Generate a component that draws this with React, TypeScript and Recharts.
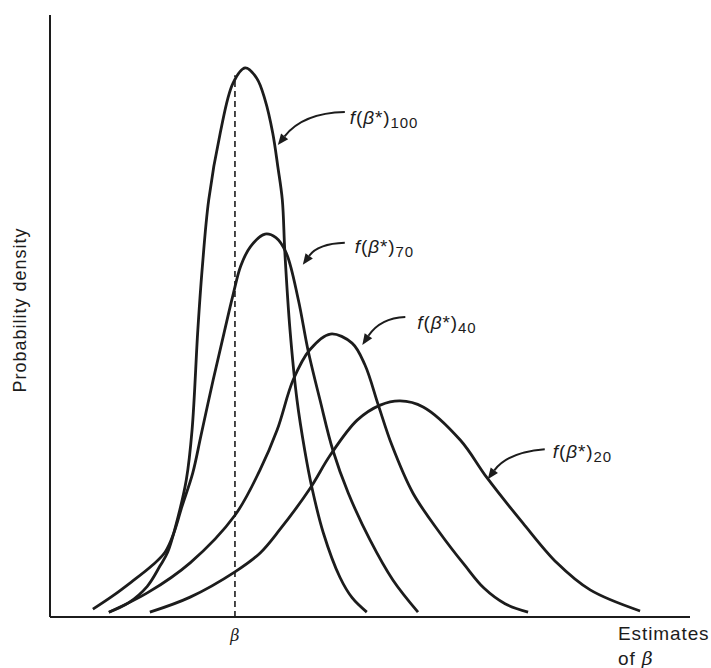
import React from 'react';
import { ComposedChart, Line, XAxis, YAxis, ReferenceLine, ReferenceDot, Label } from 'recharts';

// Curves: [estimate of beta, probability density] (arbitrary units 0-100)
const f100: [number, number][] = [
  [9.2, 0.8], [12.2, 2.3], [15.2, 5.1], [17.2, 8.5], [18.4, 10.8], [20.0, 16.6], [21.3, 22.8],
  [22.2, 31.1], [23.1, 47.7], [23.8, 58.1], [24.8, 69.3], [26.6, 80.4], [28.6, 88.7], [30.5, 91.2],
  [32.3, 89.5], [33.6, 85.9], [34.8, 80.4], [35.6, 74.8], [36.3, 69.3], [36.7, 60.5], [37.5, 47.7],
  [38.6, 36.0], [39.8, 27.7], [40.9, 21.6], [42.7, 14.0], [45.3, 6.6], [47.2, 3.2], [49.5, 0.8],
];
const f70: [number, number][] = [
  [6.7, 1.3], [9.8, 3.5], [12.7, 5.8], [15.9, 8.5], [18.0, 10.8], [19.4, 14.1], [20.6, 18.3],
  [22.3, 23.9], [23.6, 30.2], [25.5, 39.4], [27.2, 47.2], [28.6, 53.5], [29.8, 58.3], [31.3, 61.5],
  [33.6, 63.6], [35.3, 63.0], [36.9, 60.5], [38.8, 52.7], [40.3, 44.4], [42.2, 36.0], [44.2, 27.7],
  [46.6, 20.6], [50.0, 12.8], [53.6, 6.1], [57.5, 0.8],
];
const f40: [number, number][] = [
  [9.2, 0.8], [15.2, 4.0], [21.9, 9.0], [28.9, 16.9], [32.8, 24.4], [35.5, 31.1], [38.0, 39.4],
  [40.6, 44.4], [43.8, 47.0], [47.2, 45.5], [49.2, 41.9], [51.3, 35.2], [53.4, 28.6], [56.7, 20.6],
  [60.9, 14.0], [64.8, 8.6], [67.8, 4.8], [71.1, 2.2], [74.7, 0.8],
];
const f20: [number, number][] = [
  [15.6, 0.8], [21.9, 3.3], [28.9, 7.5], [32.8, 10.6], [35.9, 14.5], [40.6, 21.3], [43.8, 26.9],
  [48.0, 32.7], [51.6, 35.2], [54.7, 35.9], [58.3, 34.9], [64.1, 29.4], [68.3, 23.1],
  [73.9, 15.6], [79.2, 9.0], [84.4, 4.5], [92.2, 1.0],
];

const trueBeta = 28.9;
const dashTop = 90;
const xTicks = [trueBeta];
const tickLabels = ['β'];

// subscripts and arrow tips (data coords)
const labelNames = ['100', '70', '40', '20'];
const labelTips: [number, number][] = [[35.6, 78.4], [39.5, 58.5], [48.8, 45.2], [68.4, 22.9]];

const toPts = (arr: [number, number][]) => arr.map(([x, y]) => ({ x, y }));

const INK = '#1c1c1c';
const SANS = '"Liberation Sans", Arial, Helvetica, sans-serif';

// Smooth parametric curve (centripetal Catmull-Rom) through the read points
function smoothCurve(context: any) {
  let pts: number[][] = [];
  return {
    areaStart() {},
    areaEnd() {},
    lineStart() { pts = []; },
    point(x: number, y: number) { pts.push([+x, +y]); },
    lineEnd() {
      const n = pts.length;
      if (!n) return;
      context.moveTo(pts[0][0], pts[0][1]);
      if (n === 1) return;
      for (let i = 0; i < n - 1; i++) {
        const p0 = pts[Math.max(0, i - 1)], p1 = pts[i], p2 = pts[i + 1], p3 = pts[Math.min(n - 1, i + 2)];
        const d01 = Math.hypot(p1[0] - p0[0], p1[1] - p0[1]);
        const d12 = Math.hypot(p2[0] - p1[0], p2[1] - p1[1]);
        const d23 = Math.hypot(p3[0] - p2[0], p3[1] - p2[1]);
        const l01a = Math.sqrt(d01), l12a = Math.sqrt(d12), l23a = Math.sqrt(d23);
        const l01_2a = d01, l12_2a = d12, l23_2a = d23;
        let x1 = p1[0], y1 = p1[1], x2 = p2[0], y2 = p2[1];
        if (l01a > 1e-9) {
          const a = 2 * l01_2a + 3 * l01a * l12a + l12_2a;
          const nn = 3 * l01a * (l01a + l12a);
          x1 = (x1 * a - p0[0] * l12_2a + p2[0] * l01_2a) / nn;
          y1 = (y1 * a - p0[1] * l12_2a + p2[1] * l01_2a) / nn;
        }
        if (l23a > 1e-9) {
          const b = 2 * l23_2a + 3 * l23a * l12a + l12_2a;
          const m = 3 * l23a * (l23a + l12a);
          x2 = (x2 * b + p1[0] * l23_2a - p3[0] * l12_2a) / m;
          y2 = (y2 * b + p1[1] * l23_2a - p3[1] * l12_2a) / m;
        }
        context.bezierCurveTo(x1, y1, x2, y2, p2[0], p2[1]);
      }
    },
  };
}

// geometry of the annotations relative to arrow tip (pixel offsets)
const annoGeom = [
  { tail: [67, -33], ctrl: [25, -32], text: [72, -21] },
  { tail: [42, -22], ctrl: [15, -21], text: [52, -12] },
  { tail: [43, -28], ctrl: [18, -27], text: [55, -16] },
  { tail: [57, -30], ctrl: [20, -27], text: [65, -21] },
];

function makeAnno(i: number) {
  return (props: any) => {
    const { cx, cy } = props;
    if (cx == null || cy == null) return <g />;
    const g = annoGeom[i];
    const tx = cx + g.tail[0], ty = cy + g.tail[1];
    const qx = cx + g.ctrl[0], qy = cy + g.ctrl[1];
    let vx = cx - qx, vy = cy - qy;
    const len = Math.sqrt(vx * vx + vy * vy) || 1;
    vx /= len; vy /= len;
    const L = 11, W = 4.5;
    const bx = cx - vx * L, by = cy - vy * L;
    const p1 = `${bx - vy * W},${by + vx * W}`;
    const p2 = `${bx + vy * W},${by - vx * W}`;
    return (
      <g>
        <path d={`M${tx},${ty} Q${qx},${qy} ${bx},${by}`} fill="none" stroke={INK} strokeWidth={2} />
        <polygon points={`${cx},${cy} ${p1} ${p2}`} fill={INK} />
        <text x={cx + g.text[0]} y={cy + g.text[1]} fontFamily={SANS} fontSize={19} fill={INK} letterSpacing={0.9}>
          <tspan fontStyle="italic">f</tspan>
          <tspan>(</tspan>
          <tspan fontStyle="italic">β</tspan>
          <tspan>*)</tspan>
          <tspan fontSize={15} dy={4}>{labelNames[i]}</tspan>
        </text>
      </g>
    );
  };
}

const BetaTick = (props: any) => {
  const { x, y, index } = props;
  return (
    <text x={x} y={y + 24} textAnchor="middle" fontFamily='"DejaVu Serif", "Liberation Serif", serif' fontStyle="italic" fontSize={16} fill={INK}>
      {tickLabels[index] ?? 'β'}
    </text>
  );
};

export default function App() {
  return (
    <div style={{ position: 'absolute', left: 0, top: 0, background: '#fff' }}>
      <ComposedChart width={711} height={668} margin={{ top: 15, right: 21, bottom: 21, left: 10 }}>
        <XAxis
          dataKey="x"
          type="number"
          domain={[0, 100]}
          ticks={xTicks}
          tick={<BetaTick />}
          tickLine={false}
          tickSize={0}
          tickMargin={0}
          height={30}
          axisLine={{ stroke: INK, strokeWidth: 2 }}
          allowDataOverflow
        >
          <Label
            content={(p: any) => {
              const vb = p.viewBox || { x: 50, y: 617, width: 640 };
              const x0 = vb.x + vb.width - 72;
              return (
                <text fontFamily={SANS} fontSize={19} fill={INK} letterSpacing={0.9}>
                  <tspan x={x0} y={vb.y + 23}>Estimates</tspan>
                  <tspan x={x0} y={vb.y + 48}>of <tspan fontFamily='"DejaVu Serif", serif' fontStyle="italic">β</tspan></tspan>
                </text>
              );
            }}
          />
        </XAxis>
        <YAxis
          type="number"
          domain={[0, 100]}
          width={40}
          tick={false}
          tickLine={false}
          axisLine={{ stroke: INK, strokeWidth: 2 }}
          allowDataOverflow
        >
          <Label
            content={(p: any) => {
              const vb = p.viewBox || { x: 10, y: 15, width: 40, height: 602 };
              const cx = vb.x + 10;
              const cy = vb.y + vb.height / 2 - 6;
              return (
                <text x={cx} y={cy} transform={`rotate(-90 ${cx} ${cy})`} textAnchor="middle" dominantBaseline="central" fontFamily={SANS} fontSize={18} fill={INK} letterSpacing={1}>
                  Probability density
                </text>
              );
            }}
          />
        </YAxis>
        <ReferenceLine
          segment={[{ x: trueBeta, y: 0 }, { x: trueBeta, y: dashTop }]}
          stroke={INK}
          strokeWidth={1.6}
          strokeDasharray="6 4"
        />
        <Line data={toPts(f100)} dataKey="y" type={smoothCurve as any} stroke={INK} strokeWidth={2.8} dot={false} activeDot={false} isAnimationActive={false} />
        <Line data={toPts(f70)} dataKey="y" type={smoothCurve as any} stroke={INK} strokeWidth={2.8} dot={false} activeDot={false} isAnimationActive={false} />
        <Line data={toPts(f40)} dataKey="y" type={smoothCurve as any} stroke={INK} strokeWidth={2.8} dot={false} activeDot={false} isAnimationActive={false} />
        <Line data={toPts(f20)} dataKey="y" type={smoothCurve as any} stroke={INK} strokeWidth={2.8} dot={false} activeDot={false} isAnimationActive={false} />
        {labelTips.map((t, i) => (
          <ReferenceDot key={i} x={t[0]} y={t[1]} r={0} shape={makeAnno(i)} />
        ))}
      </ComposedChart>
    </div>
  );
}
